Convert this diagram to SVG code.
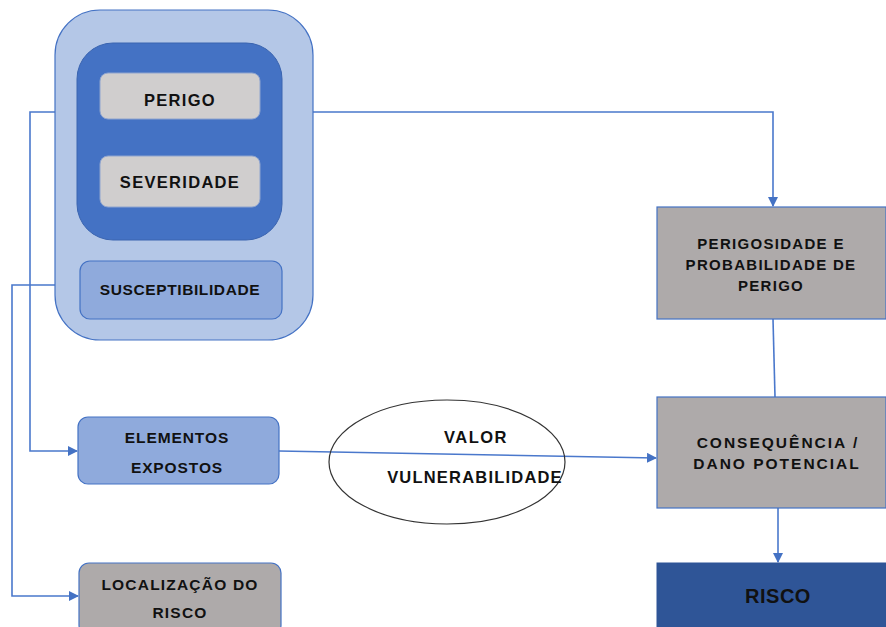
<svg xmlns="http://www.w3.org/2000/svg" width="886" height="627" viewBox="0 0 886 627">
<defs>
<style>
.t{font-family:"Liberation Sans",Arial,sans-serif;font-weight:bold;fill:#111;text-anchor:middle;}
.c{fill:none;stroke:#4a78cc;stroke-width:1.6;}
</style>
<marker id="ah" markerWidth="10" markerHeight="10" refX="9" refY="5" orient="auto" markerUnits="userSpaceOnUse">
<path d="M0,0 L10,5 L0,10 z" fill="#4472c4"/>
</marker>
</defs>
<rect width="886" height="627" fill="#fff"/>
<g id="connectors">
<path class="c" d="M313,112 H773 V206" marker-end="url(#ah)"/>
<path class="c" d="M55,112 H30 V451 H77" marker-end="url(#ah)"/>
<path class="c" d="M55,285 H12 V596 H78" marker-end="url(#ah)"/>
<path class="c" d="M279,451 L656,458" marker-end="url(#ah)"/>
<path class="c" d="M773,319 L775,397"/>
<path class="c" d="M778,508 V562" marker-end="url(#ah)"/>
</g>
<g id="grupo-perigo">
<rect x="55" y="10" width="258" height="330" rx="45" fill="#b4c7e7" stroke="#4472c4" stroke-width="1.2"/>
<rect x="77" y="43" width="205" height="197" rx="36" fill="#4472c4" stroke="#3a64b0" stroke-width="1"/>
</g>
<g id="perigo">
<rect x="100" y="73" width="160" height="46" rx="8" fill="#d0cece" stroke="#8ea4cf" stroke-width="1"/>
<text class="t" x="180" y="106" font-size="16.5" letter-spacing="1.3">PERIGO</text>
</g>
<g id="severidade">
<rect x="100" y="156" width="160" height="51" rx="8" fill="#d0cece" stroke="#8ea4cf" stroke-width="1"/>
<text class="t" x="180" y="188" font-size="16.5" letter-spacing="1.3">SEVERIDADE</text>
</g>
<g id="susceptibilidade">
<rect x="80" y="261" width="202" height="58" rx="10" fill="#8faadc" stroke="#4472c4" stroke-width="1.2"/>
<text class="t" x="180" y="295" font-size="15.5" letter-spacing="0.6">SUSCEPTIBILIDADE</text>
</g>
<g id="perigosidade">
<rect x="657" y="207" width="229" height="112" fill="#aeaaaa" stroke="#4472c4" stroke-width="1.2"/>
<text class="t" x="771" y="249" font-size="15" letter-spacing="1.3">PERIGOSIDADE E</text>
<text class="t" x="771" y="270" font-size="15" letter-spacing="1.3">PROBABILIDADE DE</text>
<text class="t" x="771" y="291" font-size="15" letter-spacing="1.3">PERIGO</text>
</g>
<g id="consequencia">
<rect x="657" y="397" width="229" height="111" fill="#aeaaaa" stroke="#4472c4" stroke-width="1.2"/>
<text class="t" x="778" y="448" font-size="15.5" letter-spacing="2">CONSEQUÊNCIA /</text>
<text class="t" x="777" y="469" font-size="15.5" letter-spacing="2">DANO POTENCIAL</text>
</g>
<g id="risco">
<rect x="657" y="563" width="229" height="64" fill="#2f5597" stroke="#2f5597" stroke-width="1"/>
<text class="t" x="778" y="603" font-size="20" letter-spacing="0.5">RISCO</text>
</g>
<g id="valor-vulnerabilidade">
<ellipse cx="447" cy="462" rx="118" ry="62" fill="none" stroke="#333" stroke-width="1.2"/>
<text class="t" x="476" y="443" font-size="16.5" letter-spacing="1.5">VALOR</text>
<text class="t" x="475" y="483" font-size="16.5" letter-spacing="1.2">VULNERABILIDADE</text>
</g>
<g id="elementos">
<rect x="78" y="417" width="201" height="67" rx="10" fill="#8faadc" stroke="#4472c4" stroke-width="1.2"/>
<text class="t" x="177" y="443" font-size="15.5" letter-spacing="0.9">ELEMENTOS</text>
<text class="t" x="177" y="473" font-size="15.5" letter-spacing="0.9">EXPOSTOS</text>
</g>
<g id="localizacao">
<rect x="79" y="563" width="202" height="72" rx="10" fill="#aeaaaa" stroke="#4472c4" stroke-width="1.2"/>
<text class="t" x="180" y="590" font-size="15.5" letter-spacing="1.2">LOCALIZAÇÃO DO</text>
<text class="t" x="180" y="618" font-size="15.5" letter-spacing="1.2">RISCO</text>
</g>
</svg>
